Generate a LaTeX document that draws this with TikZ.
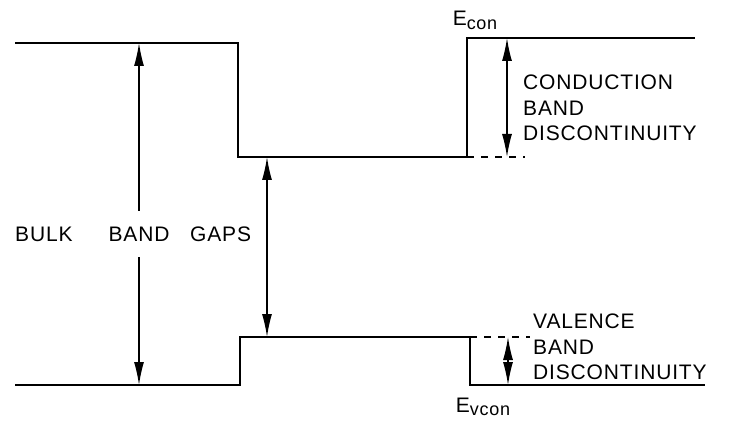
\documentclass[tikz,border=0pt]{standalone}
\usepackage{fontspec}
\setmainfont{Liberation Sans}
\newfontfamily\lblfont[LetterSpace=4]{Liberation Sans}
\usetikzlibrary{arrows.meta}

\begin{document}
\begin{tikzpicture}[x=1pt, y=-1pt,
  band/.style={line width=1.6pt},
  offset/.style={line width=1.6pt, dash pattern=on 7pt off 7pt},
  span/.style={line width=1.3pt, {Latex[length=23pt,width=10pt]}-{Latex[length=23pt,width=10pt]}},
  lbl/.style={font=\lblfont\fontsize{21}{25.5}\selectfont, inner sep=0pt, align=left}]
  \useasboundingbox (0,0) rectangle (730,422);
  % Conduction band edges
  \coordinate (ct1) at (15,43);
  \coordinate (ct2) at (238,43);
  \coordinate (cm1) at (238,157);
  \coordinate (cm2) at (467,157);
  \coordinate (cr1) at (467,38);
  \coordinate (cr2) at (695,38);
  \coordinate (cdash) at (525,157);
  \draw[band] (ct1) -- (ct2) -- (cm1) -- (cm2) -- (cr1) -- (cr2);
  \draw[offset] (cm2) -- (cdash);
  % Valence band edges
  \coordinate (vb1) at (15,385);
  \coordinate (vb2) at (240,385);
  \coordinate (vm1) at (240,337);
  \coordinate (vm2) at (470,337);
  \coordinate (vr1) at (470,385);
  \coordinate (vr2) at (705,385);
  \coordinate (vdash) at (530,337);
  \draw[band] (vb1) -- (vb2) -- (vm1) -- (vm2) -- (vr1) -- (vr2);
  \draw[offset] (vm2) -- (vdash);
  % Gaps and discontinuities
  \coordinate (bulktop) at (139,43);
  \coordinate (bulkbot) at (139,385);
  \coordinate (gaptop) at (267,157);
  \coordinate (gapbot) at (267,337);
  \coordinate (condtop) at (507,38);
  \coordinate (condbot) at (507,157);
  \coordinate (valtop) at (508,337);
  \coordinate (valbot) at (508,385);
  \draw[span] (bulktop) -- (bulkbot);
  \draw[span] (gaptop) -- (gapbot);
  \draw[span] (condtop) -- (condbot);
  \draw[span] (valtop) -- (valbot);
  % Labels
  \node[lbl, anchor=west] (bulk) at (15,234) {BULK};
  \node[lbl, fill=white, inner xsep=3pt, inner ysep=16pt] (bandlbl) at (139,234) {BAND};
  \node[lbl, anchor=west] (gaps) at (190,234) {GAPS};
  \node[lbl, anchor=west] (cdisc) at (523,108) {CONDUCTION\\BAND\\DISCONTINUITY};
  \node[lbl, anchor=west] (vdisc) at (533,347) {VALENCE\\BAND\\DISCONTINUITY};
  \node[lbl] (econ) at (475,20) {E\raisebox{-4pt}{\fontsize{18}{18}\selectfont con}};
  \node[lbl] (evcon) at (483,407) {E\raisebox{-3pt}{\fontsize{18}{18}\selectfont vcon}};
\end{tikzpicture}
\end{document}
